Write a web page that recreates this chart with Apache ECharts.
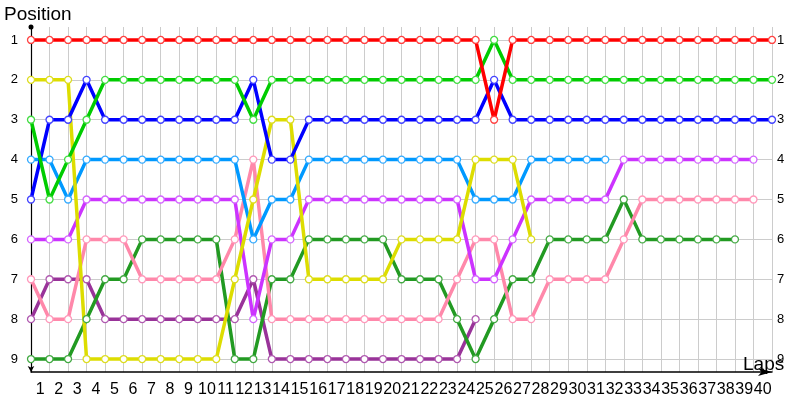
<!DOCTYPE html>
<html>
<head>
<meta charset="utf-8">
<script src="https://cdn.jsdelivr.net/npm/echarts@6/dist/echarts.min.js"></script>
<style>html,body{margin:0;padding:0;background:#fff;}#c{width:800px;height:400px;}</style>
</head>
<body>
<div id="c"></div>
<script>
// lap index 0..40 (start + 40 laps)
var lapLabels = [];
for (var k = 1; k <= 40; k++) lapLabels.push(String(k));
var positionTicks = [1, 2, 3, 4, 5, 6, 7, 8, 9];

var redPos     = [1,1,1,1,1,1,1,1,1,1,1,1,1,1,1,1,1,1,1,1,1,1,1,1,1,3,1,1,1,1,1,1,1,1,1,1,1,1,1,1,1];
var greenPos   = [3,5,4,3,2,2,2,2,2,2,2,2,3,2,2,2,2,2,2,2,2,2,2,2,2,1,2,2,2,2,2,2,2,2,2,2,2,2,2,2,2];
var bluePos    = [5,3,3,2,3,3,3,3,3,3,3,3,2,4,4,3,3,3,3,3,3,3,3,3,3,2,3,3,3,3,3,3,3,3,3,3,3,3,3,3,3];
var yellowPos  = [2,2,2,9,9,9,9,9,9,9,9,7,5,3,3,7,7,7,7,7,6,6,6,6,4,4,4,6,null,null,null,null,null,null,null,null,null,null,null,null,null];
var lbluePos   = [4,4,5,4,4,4,4,4,4,4,4,4,6,5,5,4,4,4,4,4,4,4,4,4,5,5,5,4,4,4,4,4,null,null,null,null,null,null,null,null,null];
var magentaPos = [6,6,6,5,5,5,5,5,5,5,5,5,8,6,6,5,5,5,5,5,5,5,5,5,7,7,6,5,5,5,5,5,4,4,4,4,4,4,4,4,null];
var pinkPos    = [7,8,8,6,6,6,7,7,7,7,7,6,4,8,8,8,8,8,8,8,8,8,8,7,6,6,8,8,7,7,7,7,6,5,5,5,5,5,5,5,null];
var dgreenPos  = [9,9,9,8,7,7,6,6,6,6,6,9,9,7,7,6,6,6,6,6,7,7,7,8,9,8,7,7,6,6,6,6,5,6,6,6,6,6,6,null,null];
var dpurplePos = [8,7,7,7,8,8,8,8,8,8,8,8,7,9,9,9,9,9,9,9,9,9,9,9,8,null,null,null,null,null,null,null,null,null,null,null,null,null,null,null,null];

var seriesDefs = [
  {name: 'dpurple', data: dpurplePos, color: '#993399', mark: '#b05ab0'},
  {name: 'dgreen',  data: dgreenPos,  color: '#229a22', mark: '#44aa44'},
  {name: 'pink',    data: pinkPos,    color: '#ff88aa', mark: '#ff99bb'},
  {name: 'magenta', data: magentaPos, color: '#cc33ff', mark: '#d466ff'},
  {name: 'lblue',   data: lbluePos,   color: '#0099ff', mark: '#33aaff'},
  {name: 'yellow',  data: yellowPos,  color: '#dddd00', mark: '#dddd22'},
  {name: 'blue',    data: bluePos,    color: '#0000ff', mark: '#4444ff'},
  {name: 'green',   data: greenPos,   color: '#00cc00', mark: '#44dd44'},
  {name: 'red',     data: redPos,     color: '#ff0000', mark: '#ff4444'}
];

var FONT = '"Liberation Sans", Arial, sans-serif';

var series = seriesDefs.map(function (d) {
  var pts = [];
  d.data.forEach(function (v, i) { if (v !== null) pts.push([i, v]); });
  return {
    type: 'line',
    name: d.name,
    xAxisIndex: 0,
    yAxisIndex: 0,
    data: pts,
    symbol: 'circle',
    symbolSize: 7,
    showSymbol: true,
    showAllSymbol: true,
    lineStyle: {color: d.color, width: 3.5},
    itemStyle: {color: '#ffffff', borderColor: d.mark, borderWidth: 1.3},
    emphasis: {disabled: true},
    z: 2
  };
});

var chart = echarts.init(document.getElementById('c'), null, {renderer: 'canvas'});
chart.setOption({
  animation: false,
  backgroundColor: '#ffffff',
  grid: {left: 31, right: 28, top: 27, bottom: 28, containLabel: false},
  xAxis: [
    {
      type: 'value', min: 0, max: 40, interval: 1,
      position: 'bottom',
      axisLine: {show: true, lineStyle: {color: '#000', width: 1.5}, symbol: ['none', 'arrow'], symbolSize: [6, 14]},
      axisTick: {show: false},
      axisLabel: {show: false},
      splitLine: {show: true, lineStyle: {color: '#cccccc', width: 1}}
    },
    {
      type: 'category', data: lapLabels, boundaryGap: true,
      position: 'bottom',
      axisLine: {show: false},
      axisTick: {show: false},
      splitLine: {show: false},
      axisLabel: {show: true, interval: 0, margin: 10, color: '#000', fontSize: 16, fontFamily: FONT}
    }
  ],
  yAxis: [
    {
      type: 'value', inverse: true, min: 0.675, max: 9.325,
      position: 'left',
      axisLine: {show: true, lineStyle: {color: '#000', width: 1.2}, symbol: ['arrow', 'circle'], symbolSize: [5, 6]},
      axisTick: {show: false, customValues: positionTicks},
      axisLabel: {show: true, customValues: positionTicks, margin: 13, color: '#000', fontSize: 13, fontFamily: FONT},
      splitLine: {show: true, lineStyle: {color: '#cccccc', width: 1}}
    },
    {
      type: 'value', inverse: true, min: 0.675, max: 9.325,
      position: 'right',
      axisLine: {show: false},
      axisTick: {show: false, customValues: positionTicks},
      axisLabel: {show: true, customValues: positionTicks, margin: 5, color: '#000', fontSize: 13, fontFamily: FONT},
      splitLine: {show: false}
    }
  ],
  graphic: [
    {type: 'text', left: 4, top: 5, style: {text: 'Position', font: '19px ' + FONT, fill: '#000'}},
    {type: 'text', left: 743, top: 355, z: 100, style: {text: 'Laps', font: '19px ' + FONT, fill: '#000'}}
  ],
  series: series
});
</script>
</body>
</html>
